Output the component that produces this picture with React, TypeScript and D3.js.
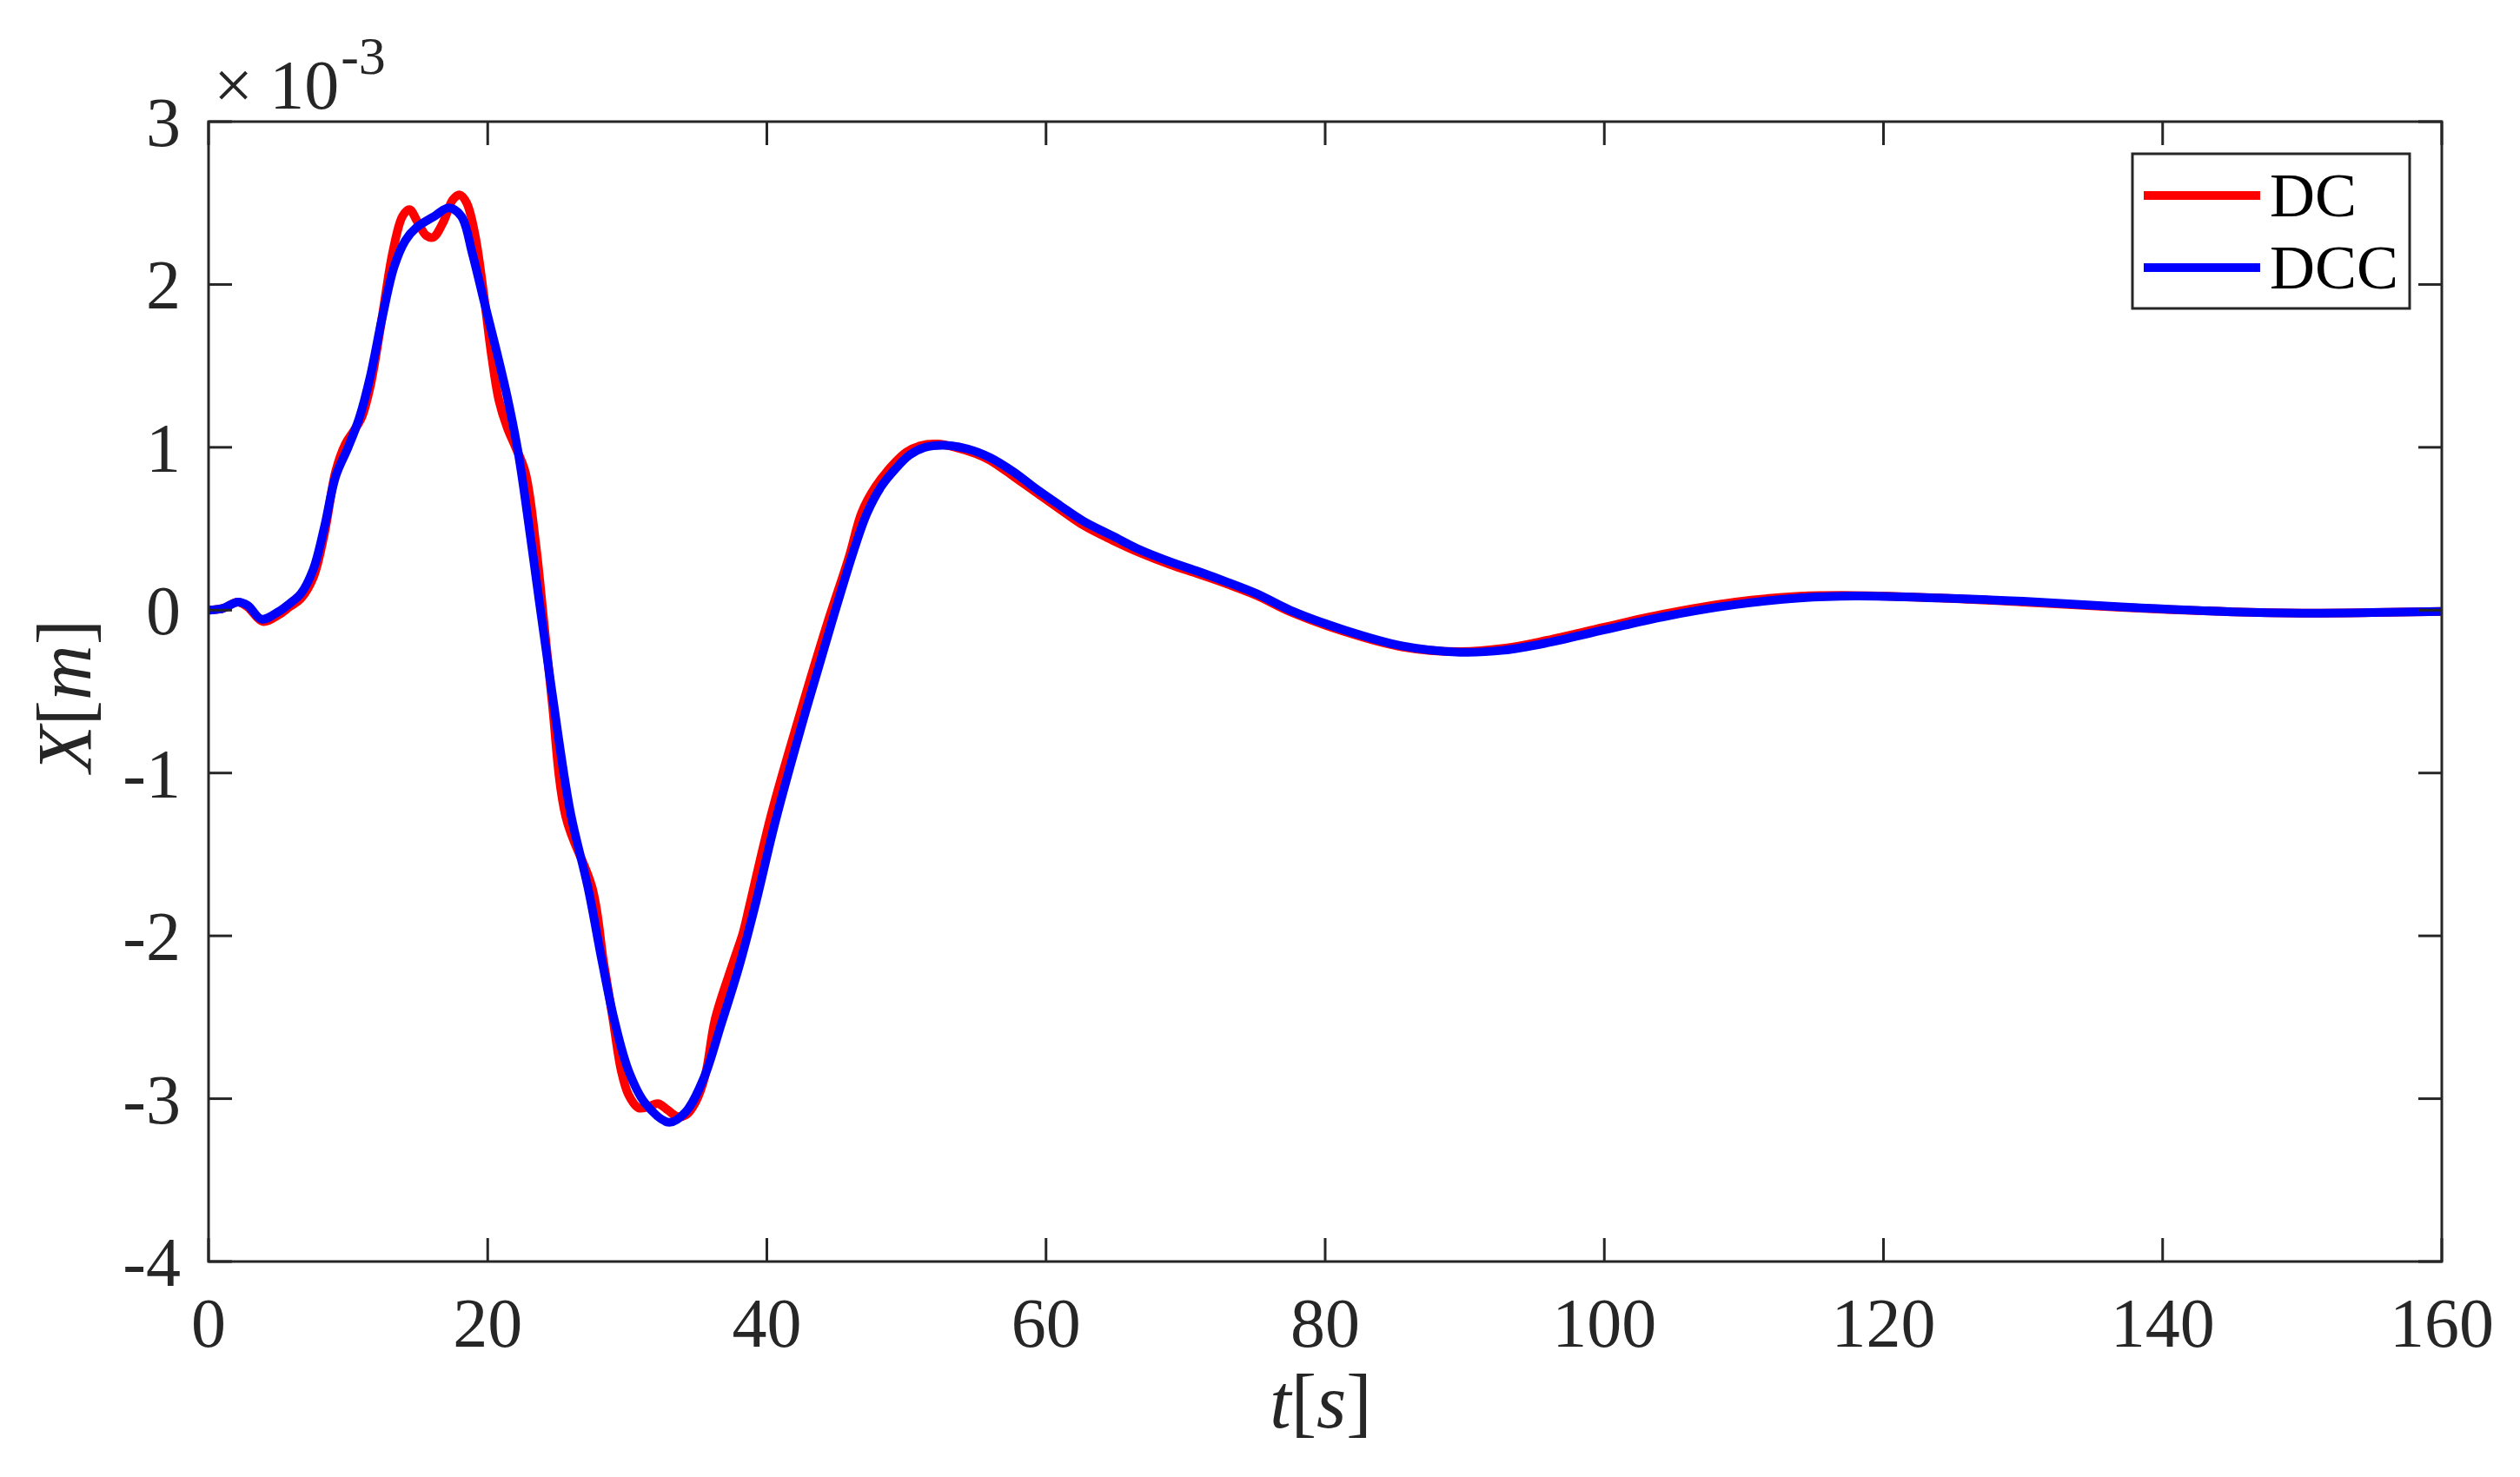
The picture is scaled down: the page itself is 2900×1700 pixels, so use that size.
import React from "react";
import * as d3 from "d3";

// ---- data (values in units of 1e-3 m) ----
const dcTime = [0, 1, 2.1, 2.8, 3.9, 5, 5.8, 6.6, 7.5, 8.3, 9.1, 9.8, 10.4, 11.0, 11.6, 12.4, 13.2, 13.9, 14.4, 15.0, 15.6, 16.1, 16.8, 17.5, 18.0, 18.5, 19.1, 19.7, 20.3, 20.8, 21.4, 22.0, 22.7, 23.45, 24.0, 24.6, 25.6, 27.5, 28.3, 28.97, 29.57, 30.09, 30.8, 31.5, 32.2, 32.9, 33.6, 34.2, 34.9, 35.6, 36.3, 37.6, 38.3, 38.8, 40.3, 42.4, 44.3, 45.9, 46.8, 47.8, 49.0, 50.0, 51.0, 52.2, 53.5, 55.0, 56.0, 57.7, 59.35, 61, 62.7, 64.75, 66.8, 68.9, 71, 73, 75.1, 77.5, 81.35, 85.5, 89.65, 92.8, 95.9, 100, 104.2, 109.4, 114, 118, 124, 130, 137, 145, 150, 155, 160];
const dcValue = [0, 0.01, 0.05, 0.02, -0.07, -0.03, 0.02, 0.07, 0.2, 0.47, 0.85, 1.02, 1.1, 1.19, 1.38, 1.78, 2.2, 2.42, 2.46, 2.38, 2.3, 2.29, 2.38, 2.52, 2.55, 2.5, 2.3, 1.95, 1.55, 1.29, 1.12, 1.0, 0.845, 0.4, -0.05, -0.55, -1.27, -1.71, -2.16, -2.51, -2.83, -2.976, -3.056, -3.05, -3.03, -3.07, -3.11, -3.1, -3.02, -2.85, -2.51, -2.16, -1.98, -1.8, -1.26, -0.63, -0.09, 0.33, 0.6, 0.76, 0.89, 0.97, 1.01, 1.02, 1.0, 0.96, 0.92, 0.82, 0.72, 0.62, 0.52, 0.43, 0.35, 0.28, 0.22, 0.16, 0.09, -0.01, -0.13, -0.225, -0.255, -0.235, -0.185, -0.105, -0.025, 0.05, 0.085, 0.09, 0.075, 0.05, 0.017, -0.01, -0.018, -0.015, -0.008];

const dccTime = [0, 1, 2.1, 2.8, 3.8, 5.0, 5.8, 6.6, 7.5, 8.3, 9.1, 10.0, 10.8, 11.6, 12.45, 13.3, 14.1, 14.9, 16.2, 17.2, 18.1, 18.9, 19.7, 20.55, 21.4, 22.2, 23.0, 23.7, 24.6, 25.9, 27.2, 28.2, 29.05, 30.1, 31.3, 33.0, 34.2, 35.5, 36.7, 38.0, 39.2, 40.6, 42.75, 44.6, 46.2, 47.2, 48.2, 49.2, 50.2, 51.3, 52.7, 54.4, 56.0, 57.7, 59.35, 61.0, 62.7, 64.75, 66.8, 68.9, 71.0, 73.0, 75.1, 77.5, 81.35, 85.5, 89.65, 92.8, 95.9, 100.0, 104.2, 109.4, 114, 118, 124, 130, 137, 145, 150, 155, 160];
const dccValue = [0, 0.01, 0.05, 0.03, -0.055, -0.01, 0.04, 0.1, 0.25, 0.51, 0.82, 1.0, 1.18, 1.44, 1.8, 2.11, 2.27, 2.35, 2.42, 2.47, 2.42, 2.19, 1.91, 1.62, 1.31, 0.96, 0.49, 0.05, -0.5, -1.23, -1.71, -2.16, -2.51, -2.83, -3.03, -3.145, -3.08, -2.87, -2.55, -2.19, -1.8, -1.3, -0.63, -0.09, 0.36, 0.6, 0.76, 0.866, 0.951, 0.999, 1.013, 0.99, 0.937, 0.848, 0.741, 0.643, 0.546, 0.457, 0.368, 0.297, 0.235, 0.172, 0.101, 0.0, -0.121, -0.219, -0.258, -0.246, -0.201, -0.121, -0.041, 0.034, 0.075, 0.087, 0.075, 0.055, 0.02, -0.01, -0.018, -0.015, -0.008];

const xTicks = [0, 20, 40, 60, 80, 100, 120, 140, 160];
const yTicks = [-4, -3, -2, -1, 0, 1, 2, 3];
const seriesNames = ["DC", "DCC"];
const seriesColors = ["#ff0000", "#0000ff"];

const W = 2900;
const H = 1700;
const L = 240, R = 2810, T = 140, B = 1452;
const AX = "#262626";
const FONT = "'Liberation Serif', 'Times New Roman', serif";

export default function App() {
  const x = d3.scaleLinear().domain([0, 160]).range([L, R]);
  const y = d3.scaleLinear().domain([-4, 3]).range([B, T]);
  const line = d3
    .line<[number, number]>()
    .x((d) => x(d[0]))
    .y((d) => y(d[1]))
    .curve(d3.curveCatmullRom.alpha(0.5));

  const dc: [number, number][] = dcTime.map((t, i) => [t, dcValue[i]]);
  const dcc: [number, number][] = dccTime.map((t, i) => [t, dccValue[i]]);
  const series = [dc, dcc];
  const tickLen = 27;

  return (
    <svg
      width={W}
      height={H}
      style={{ position: "absolute", left: 0, top: 0, background: "#fff" }}
      fontFamily={FONT}
    >
      <rect x={0} y={0} width={W} height={H} fill="#fff" />
      {/* data lines */}
      {series.map((s, i) => (
        <path
          key={i}
          d={line(s) || ""}
          fill="none"
          stroke={seriesColors[i]}
          strokeWidth={10}
          strokeLinejoin="round"
          strokeLinecap="butt"
        />
      ))}
      {/* axes box */}
      <rect x={L} y={T} width={R - L} height={B - T} fill="none" stroke={AX} strokeWidth={3} />
      {/* x ticks */}
      {xTicks.map((t) => (
        <g key={"xt" + t}>
          <line x1={x(t)} x2={x(t)} y1={B} y2={B - tickLen} stroke={AX} strokeWidth={3} />
          <line x1={x(t)} x2={x(t)} y1={T} y2={T + tickLen} stroke={AX} strokeWidth={3} />
          <text x={x(t)} y={1550} fontSize={80} textAnchor="middle" fill={AX}>
            {t}
          </text>
        </g>
      ))}
      {/* y ticks */}
      {yTicks.map((v) => (
        <g key={"yt" + v}>
          <line x1={L} x2={L + tickLen} y1={y(v)} y2={y(v)} stroke={AX} strokeWidth={3} />
          <line x1={R} x2={R - tickLen} y1={y(v)} y2={y(v)} stroke={AX} strokeWidth={3} />
          <text x={208} y={y(v) + 28} fontSize={80} textAnchor="end" fill={AX}>
            {v < 0 ? "-" + Math.abs(v) : String(v)}
          </text>
        </g>
      ))}
      {/* exponent */}
      <text x={246} y={125} fontSize={80} fill={AX}>
        <tspan>×</tspan>
        <tspan dx={19}>10</tspan>
        <tspan dx={2} dy={-40} fontSize={62}>-3</tspan>
      </text>
      {/* axis labels */}
      <text x={1520} y={1643} fontSize={88} textAnchor="middle" fill={AX}>
        <tspan fontStyle="italic">t</tspan>
        <tspan>[</tspan>
        <tspan fontStyle="italic">s</tspan>
        <tspan>]</tspan>
      </text>
      <text
        transform={`translate(104, 801) rotate(-90)`}
        fontSize={88}
        textAnchor="middle"
        fill={AX}
      >
        <tspan fontStyle="italic">X</tspan>
        <tspan>[</tspan>
        <tspan fontStyle="italic">m</tspan>
        <tspan>]</tspan>
      </text>
      {/* legend */}
      <rect x={2454} y={177} width={2773 - 2454} height={355 - 177} fill="#fff" stroke={AX} strokeWidth={3} />
      {seriesNames.map((n, i) => {
        const ly = 225 + i * 83;
        return (
          <g key={n}>
            <line x1={2467} x2={2601} y1={ly} y2={ly} stroke={seriesColors[i]} strokeWidth={10} />
            <text x={2612} y={ly + 24} fontSize={72} fill="#000">
              {n}
            </text>
          </g>
        );
      })}
    </svg>
  );
}
